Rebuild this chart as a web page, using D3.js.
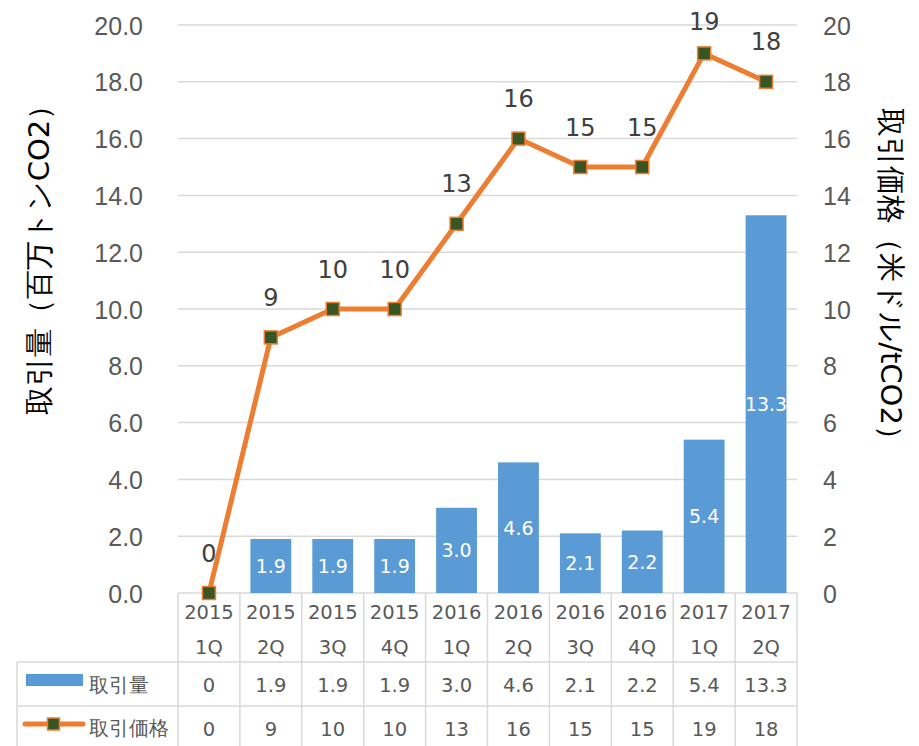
<!DOCTYPE html>
<html>
<head>
<meta charset="utf-8">
<title>取引量と取引価格</title>
<script src="https://d3js.org/d3.v7.min.js"></script>
<style>
  body { margin: 0; background: #fff; }
  svg { font-family: "DejaVu Sans", Verdana, sans-serif; }
</style>
</head>
<body>
<div id="chart"></div>
<script>
// data
var years = ["2015", "2015", "2015", "2015", "2016", "2016", "2016", "2016", "2017", "2017"];
var quarters = ["1Q", "2Q", "3Q", "4Q", "1Q", "2Q", "3Q", "4Q", "1Q", "2Q"];
var volume = [0, 1.9, 1.9, 1.9, 3.0, 4.6, 2.1, 2.2, 5.4, 13.3];   // 取引量
var price = [0, 9, 10, 10, 13, 16, 15, 15, 19, 18];               // 取引価格
var leftTicks = [0, 2, 4, 6, 8, 10, 12, 14, 16, 18, 20];
var rightTicks = [0, 2, 4, 6, 8, 10, 12, 14, 16, 18, 20];

var W = 919, H = 746;
var pLeft = 178, pRight = 797, pTop = 25, pBottom = 593;
var textCol = "#595959", gridCol = "#d9d9d9";
var blue = "#5b9bd5", orange = "#ed7d31", green = "#375623";

var svg = d3.select("#chart").append("svg")
    .attr("width", W).attr("height", H);

var idx = d3.range(volume.length);
var x = d3.scaleBand().domain(idx).range([pLeft, pRight]).paddingInner(0.34).paddingOuter(0.17);
var xc = d3.scaleBand().domain(idx).range([pLeft, pRight]);
var yL = d3.scaleLinear().domain([0, 20]).range([pBottom, pTop]);
var yR = d3.scaleLinear().domain([0, 20]).range([pBottom, pTop]);

// gridlines
svg.append("g").selectAll("line").data(leftTicks).join("line")
    .attr("x1", pLeft).attr("x2", pRight)
    .attr("y1", d => yL(d)).attr("y2", d => yL(d))
    .attr("stroke", gridCol).attr("stroke-width", 1.5);

// left axis
var ax = svg.append("g").attr("transform", "translate(143,0)")
    .call(d3.axisLeft(yL).tickValues(leftTicks).tickFormat(d3.format(".1f")).tickSize(0).tickPadding(0));
ax.select(".domain").remove();
ax.selectAll("text").attr("fill", textCol).style("font-size", "25px").attr("dy", "0.36em");

// right axis
var axr = svg.append("g").attr("transform", "translate(823,0)")
    .call(d3.axisRight(yR).tickValues(rightTicks).tickSize(0).tickPadding(0));
axr.select(".domain").remove();
axr.selectAll("text").attr("fill", textCol).style("font-size", "25px").attr("dy", "0.36em");

// axis titles
svg.append("text").attr("transform", "translate(39,253) rotate(-90)")
    .attr("text-anchor", "middle").attr("dy", "0.36em").attr("fill", "#000").style("font-size", "29px")
    .text("取引量（百万トンCO2）");
svg.append("text").attr("transform", "translate(891,281) rotate(90)")
    .attr("text-anchor", "middle").attr("dy", "0.36em").attr("fill", "#000").style("font-size", "29px")
    .text("取引価格（米ドル/tCO2）");

// bars
svg.append("g").selectAll("rect").data(idx.filter(i => volume[i] > 0)).join("rect")
    .attr("x", i => x(i)).attr("width", x.bandwidth())
    .attr("y", i => yL(volume[i])).attr("height", i => pBottom - yL(volume[i]))
    .attr("fill", blue);

svg.append("g").selectAll("text").data(idx.filter(i => volume[i] > 0)).join("text")
    .attr("x", i => x(i) + x.bandwidth() / 2)
    .attr("y", i => (yL(volume[i]) + pBottom) / 2)
    .attr("dy", "0.36em").attr("text-anchor", "middle")
    .attr("fill", "#fff").style("font-size", "19px")
    .text(i => volume[i].toFixed(1));

// price line
var line = d3.line().x(i => xc(i) + xc.bandwidth() / 2).y(i => yR(price[i]));
svg.append("path").datum(idx).attr("d", line)
    .attr("fill", "none").attr("stroke", orange).attr("stroke-width", 5)
    .attr("stroke-linejoin", "round");

svg.append("g").selectAll("rect").data(idx).join("rect")
    .attr("x", i => xc(i) + xc.bandwidth() / 2 - 6.5)
    .attr("y", i => yR(price[i]) - 6.5)
    .attr("width", 13).attr("height", 13)
    .attr("fill", green).attr("stroke", orange).attr("stroke-width", 1.5);

svg.append("g").selectAll("text").data(idx).join("text")
    .attr("x", i => xc(i) + xc.bandwidth() / 2)
    .attr("y", i => Math.max(yR(price[i]) - 40, 21))
    .attr("dy", "0.36em").attr("text-anchor", "middle")
    .attr("fill", "#404040").style("font-size", "24px")
    .text(i => price[i]);

// data table
var row1 = 662, row2 = 706, tBottom = 746, legLeft = 17;
var tg = svg.append("g").attr("stroke", gridCol).attr("stroke-width", 1.5);
tg.selectAll("line.v").data(d3.range(volume.length + 1)).join("line")
    .attr("x1", i => pLeft + i * xc.bandwidth()).attr("x2", i => pLeft + i * xc.bandwidth())
    .attr("y1", pBottom).attr("y2", tBottom);
tg.append("line").attr("x1", legLeft).attr("x2", legLeft).attr("y1", row1).attr("y2", tBottom);
[row1, row2].forEach(function (y) {
  tg.append("line").attr("x1", legLeft).attr("x2", pRight).attr("y1", y).attr("y2", y);
});

var cx = i => xc(i) + xc.bandwidth() / 2;
var tt = svg.append("g").attr("fill", textCol).attr("text-anchor", "middle").style("font-size", "19.5px");
tt.selectAll("text.yr").data(idx).join("text").attr("class", "yr")
    .attr("x", cx).attr("y", 612).attr("dy", "0.36em").text(i => years[i]);
tt.selectAll("text.q").data(idx).join("text").attr("class", "q")
    .attr("x", cx).attr("y", 647).attr("dy", "0.36em").text(i => quarters[i]);
tt.selectAll("text.v").data(idx).join("text").attr("class", "v")
    .attr("x", cx).attr("y", 685).attr("dy", "0.36em")
    .text(i => i === 0 ? "0" : volume[i].toFixed(1));
tt.selectAll("text.p").data(idx).join("text").attr("class", "p")
    .attr("x", cx).attr("y", 729).attr("dy", "0.36em").text(i => price[i]);

// legend keys in the table
svg.append("rect").attr("x", 26).attr("y", 674).attr("width", 57).attr("height", 12).attr("fill", blue);
svg.append("text").attr("x", 89).attr("y", 685).attr("dy", "0.36em")
    .attr("fill", textCol).style("font-size", "19.5px").text("取引量");
svg.append("line").attr("x1", 25).attr("x2", 83).attr("y1", 724).attr("y2", 724)
    .attr("stroke", orange).attr("stroke-width", 5).attr("stroke-linecap", "round");
svg.append("rect").attr("x", 47.5).attr("y", 718).attr("width", 12).attr("height", 12)
    .attr("fill", green).attr("stroke", orange).attr("stroke-width", 1.5);
svg.append("text").attr("x", 89).attr("y", 728).attr("dy", "0.36em")
    .attr("fill", textCol).style("font-size", "19.5px").text("取引価格");
</script>
</body>
</html>
